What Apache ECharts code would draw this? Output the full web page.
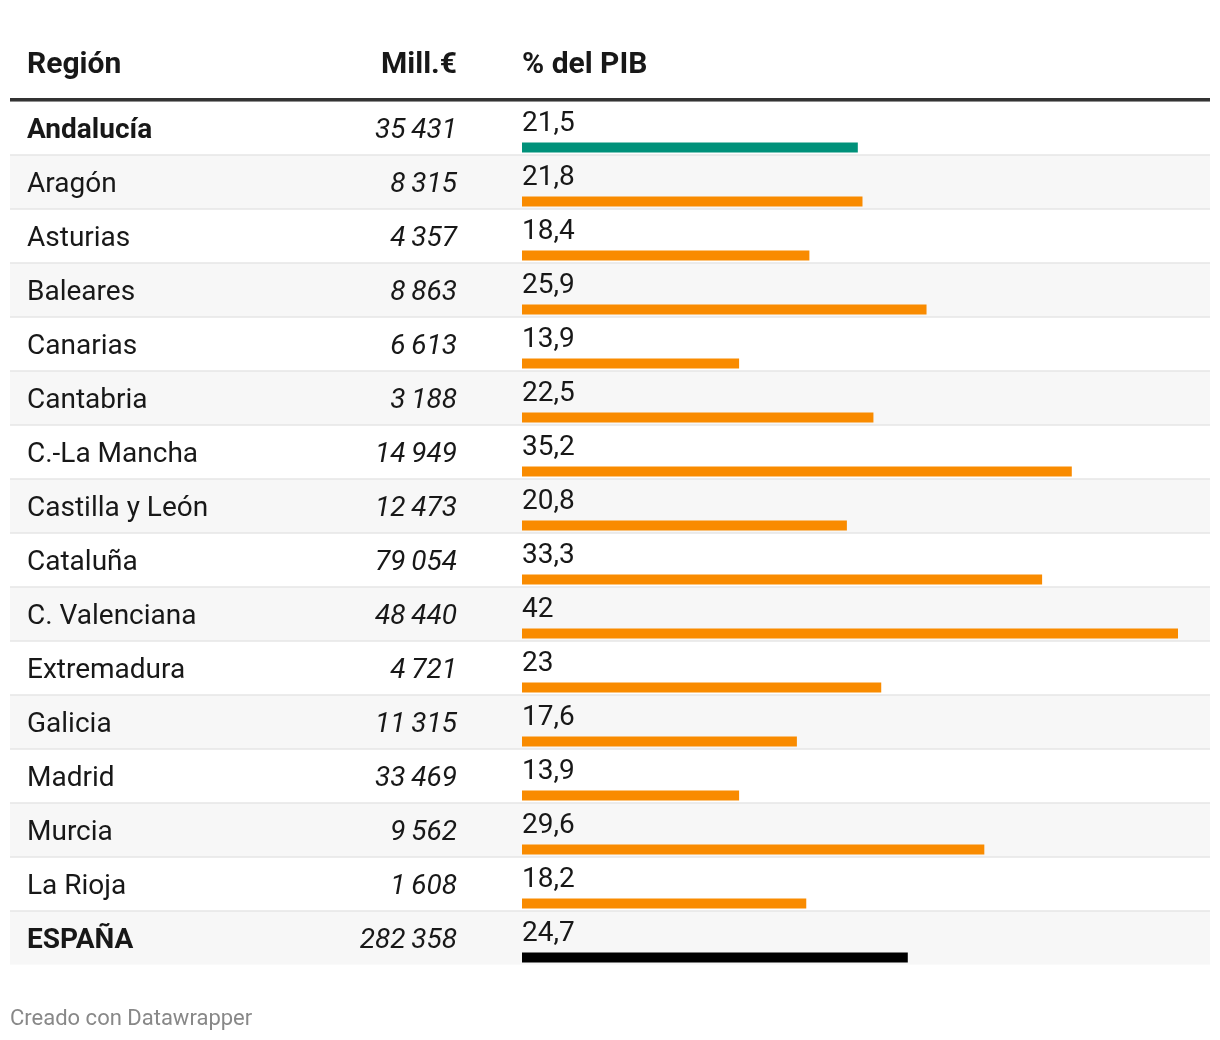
<!DOCTYPE html>
<html>
<head>
<meta charset="utf-8">
<script src="https://cdn.jsdelivr.net/npm/echarts@6/dist/echarts.min.js"></script>
<style>
html,body{margin:0;padding:0;background:#fff;}
#chart{width:1220px;height:1040px;}
</style>
</head>
<body>
<div id="chart"></div>
<script>
const regions = ['Andalucía','Aragón','Asturias','Baleares','Canarias','Cantabria','C.-La Mancha','Castilla y León','Cataluña','C. Valenciana','Extremadura','Galicia','Madrid','Murcia','La Rioja','ESPAÑA'];
const millions = [35431, 8315, 4357, 8863, 6613, 3188, 14949, 12473, 79054, 48440, 4721, 11315, 33469, 9562, 1608, 282358];
const pctPIB = [21.5, 21.8, 18.4, 25.9, 13.9, 22.5, 35.2, 20.8, 33.3, 42, 23, 17.6, 13.9, 29.6, 18.2, 24.7];
const boldRows = ['Andalucía','ESPAÑA'];
const headers = ['Región','Mill.€','% del PIB'];

const FONT = 'Roboto';
const TXT = '#181818';
const ORANGE = '#f98b00', TEAL = '#00917a', BLACK = '#000000';
const FS = 28;

function fmtMill(v){ return String(v).replace(/\B(?=(\d{3})+(?!\d))/g, '\u2009'); }
function fmtPct(v){ return String(v).replace('.', ','); }

const chart = echarts.init(document.getElementById('chart'), null, {renderer:'canvas'});

const ROW_TOP = 101, ROW_H = 54, N = regions.length;
const catAxisBase = {type:'category', inverse:true, boundaryGap:true, axisLine:{show:false}, axisTick:{show:false}};
const headStyle = {fontFamily:FONT, fontWeight:'bold', fontSize:30, color:TXT};

chart.setOption({
  backgroundColor:'#ffffff',
  animation:false,
  title:[
    {text:headers[0], left:27, top:50, padding:0, textStyle:headStyle},
    {text:headers[1], right:1220-457, top:50, padding:0, textStyle:headStyle},
    {text:headers[2], left:522, top:50, padding:0, textStyle:headStyle},
    {text:'Creado con Datawrapper', left:10, top:1008, padding:0, textStyle:{fontFamily:FONT, fontWeight:'normal', fontSize:22, color:'#888888'}}
  ],
  grid:[
    {left:10, width:1200, top:ROW_TOP, height:ROW_H*N},
    {left:457, width:1, top:ROW_TOP+3, height:ROW_H*N},
    {left:522, width:656, top:ROW_TOP+19.5, height:ROW_H*N}
  ],
  xAxis:[
    {gridIndex:0, type:'value', show:false},
    {gridIndex:1, type:'value', show:false},
    {gridIndex:2, type:'value', min:0, max:42, show:false}
  ],
  yAxis:[
    Object.assign({}, catAxisBase, {gridIndex:0, data:regions,
      splitArea:{show:true, areaStyle:{color:['#ffffff','#f7f7f7']}},
      splitLine:{show:true, lineStyle:{color:'#e6e6e6', width:1.5}},
      axisLabel:{inside:true, margin:17, align:'left', fontFamily:FONT, fontSize:FS, color:TXT, padding:[6,0,0,0],
        formatter:(v)=> boldRows.includes(v) ? '{b|'+v+'}' : v,
        rich:{b:{fontFamily:FONT, fontSize:FS, fontWeight:'bold', color:TXT}}}
    }),
    Object.assign({}, catAxisBase, {gridIndex:1, data:millions.map(fmtMill),
      axisLabel:{margin:0, align:'right', fontFamily:FONT, fontStyle:'italic', fontSize:FS, color:TXT}
    }),
    Object.assign({}, catAxisBase, {gridIndex:2, data:regions, axisLabel:{show:false}})
  ],
  series:[
    {type:'bar', xAxisIndex:2, yAxisIndex:2, barWidth:10,
      data:pctPIB.map((v,i)=>({value:v, itemStyle:{color: regions[i]==='Andalucía'?TEAL:(regions[i]==='ESPAÑA'?BLACK:ORANGE)}})),
      label:{show:true, position:[0,-19], align:'left', verticalAlign:'middle',
        formatter:(p)=>fmtPct(p.value), fontFamily:FONT, fontSize:FS, color:TXT},
      silent:true}
  ],
  graphic:[
    {type:'rect', shape:{x:10, y:98, width:1200, height:3.5}, style:{fill:'#333333'}, z:100},
    {type:'rect', shape:{x:0, y:964.2, width:1220, height:3}, style:{fill:'#ffffff'}, z:100}
  ]
});
</script>
</body>
</html>
